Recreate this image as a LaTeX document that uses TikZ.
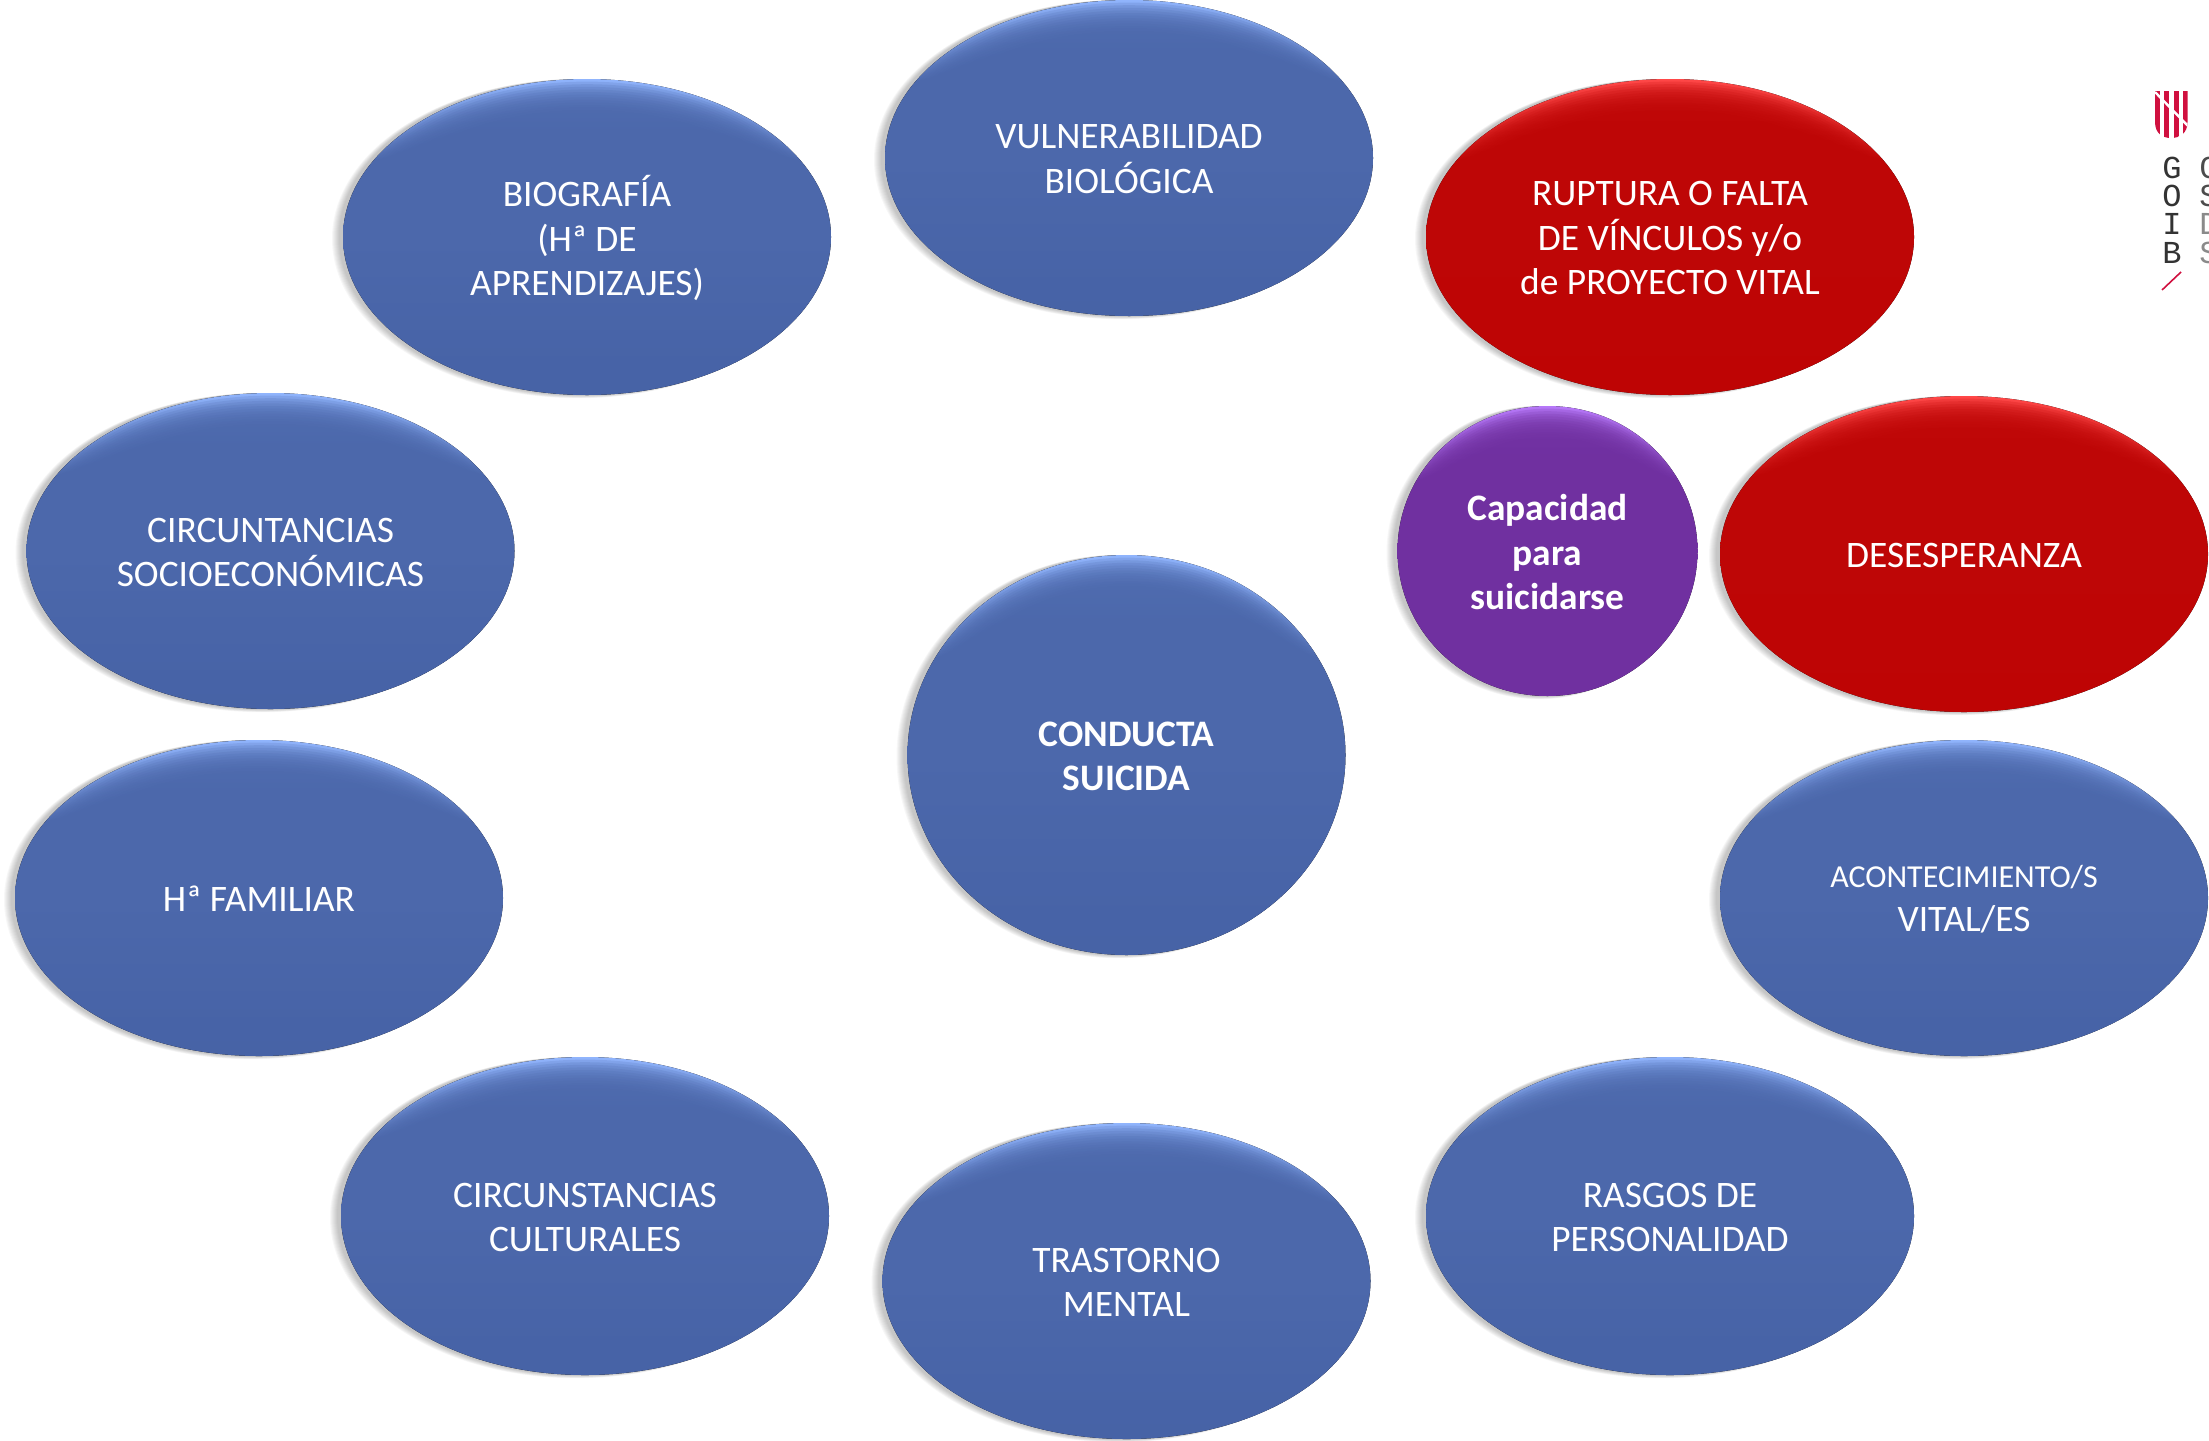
\documentclass[tikz,border=0pt]{standalone}
\usepackage{fontspec}
\setmainfont{Carlito}
\newfontfamily\logofont{Liberation Mono}
\definecolor{bluebase}{HTML}{4C68AB}
\definecolor{bluelight}{HTML}{90B4FC}
\definecolor{bluelow}{HTML}{4662A6}
\definecolor{redbase}{HTML}{BE0606}
\definecolor{redlight}{HTML}{FF4848}
\definecolor{redlow}{HTML}{C00404}
\definecolor{purplebase}{HTML}{7030A0}
\definecolor{purplelight}{HTML}{B678F8}
\definecolor{purplelow}{HTML}{7433A4}
\definecolor{logored}{HTML}{D0103F}
\definecolor{logogray}{HTML}{8A8A8A}
\pgfdeclareverticalshading{blobblue}{100bp}{color(0bp)=(bluelow); color(25bp)=(bluelow); color(50bp)=(bluebase); color(62bp)=(bluebase); color(75bp)=(bluelight); color(100bp)=(bluelight)}
\pgfdeclareverticalshading{blobred}{100bp}{color(0bp)=(redlow); color(25bp)=(redlow); color(50bp)=(redbase); color(62bp)=(redbase); color(75bp)=(redlight); color(100bp)=(redlight)}
\pgfdeclareverticalshading{blobpurple}{100bp}{color(0bp)=(purplelow); color(25bp)=(purplelow); color(50bp)=(purplebase); color(62bp)=(purplebase); color(75bp)=(purplelight); color(100bp)=(purplelight)}
\usetikzlibrary{shapes.geometric}
\tikzset{
  blobtext/.style={text=white,align=center,yshift=-0.6pt,font=\fontsize{18.7}{22.2}\selectfont},
  logoletter/.style={font=\logofont\fontsize{16}{16}\selectfont,text=black!80,inner sep=0pt,anchor=center},
  logoletterb/.style={logoletter,text=black!70},
  logoletterc/.style={logoletter,text=logogray}
}
% #1 name, #2 x, #3 y, #4 rx, #5 ry, #6 colour stem, #7 text, #8 font extras
\newcommand{\blob}[8][]{%
  \foreach \k in {1,...,8}{%
    \fill[black,opacity=.03] ({#3-3-.7*\k},{#4+.2*\k}) ellipse [x radius={#5+.3*\k},y radius={#6+.2*\k}];
  }
  \fill[shading=blob#7] (#3,#4) ellipse [x radius=#5,y radius=#6];
  \foreach \k in {1,...,12}{%
    \fill[#7base,opacity=.18] ({#3},{#4+1.1*\k}) ellipse [x radius={#5-.9*\k},y radius={#6-1.5*\k}];
  }
  \node[blobtext,#1] (#2) at (#3,#4) {#8};
}
\begin{document}
\begin{tikzpicture}[x=0.5pt,y=-0.5pt]
\useasboundingbox (0,0) rectangle (2209,1440);
\clip (0,0) rectangle (2209,1440);
\blob{vuln}{1129}{158}{244}{158}{blue}{VULNERABILIDAD\\BIOLÓGICA}
\blob{bio}{587}{237}{244}{158}{blue}{BIOGRAFÍA\\(Hª DE\\APRENDIZAJES)}
\blob{rupt}{1670}{237}{244}{158}{red}{RUPTURA O FALTA\\DE VÍNCULOS y/o\\de PROYECTO VITAL}
\blob{soc}{270.5}{551}{244}{158}{blue}{CIRCUNTANCIAS\\SOCIOECONÓMICAS}
\blob[font=\fontsize{18.7}{22.2}\selectfont\bfseries]{capa}{1547.5}{551}{150}{145}{purple}{Capacidad\\para\\suicidarse}
\blob{dese}{1964}{554}{244}{158}{red}{DESESPERANZA}
\blob[font=\fontsize{18.7}{22.2}\selectfont\bfseries]{cond}{1126.5}{755}{219}{200}{blue}{CONDUCTA\\SUICIDA}
\blob{fam}{259}{898}{244}{158}{blue}{Hª FAMILIAR}
\blob{acon}{1964}{898}{244}{158}{blue}{{\fontsize{16}{22.2}\selectfont ACONTECIMIENTO/S}\\VITAL/ES}
\blob{cult}{585}{1216}{244}{159}{blue}{CIRCUNSTANCIAS\\CULTURALES}
\blob{rasg}{1670}{1216}{244}{159}{blue}{RASGOS DE\\PERSONALIDAD}
\blob{tras}{1126.5}{1281}{244}{158}{blue}{TRASTORNO\\MENTAL}
% logo
\begin{scope}
  \clip (2155,91) -- (2187.5,91) -- (2187.5,122) .. controls (2187.5,133) and (2180,138) .. (2171,138) .. controls (2162,138) and (2155,133) .. (2155,122) -- cycle;
  \fill[logored] (2155,91) rectangle (2160,138);
  \fill[logored] (2164,91) rectangle (2169,138);
  \fill[logored] (2174,91) rectangle (2179,138);
  \fill[logored] (2183,91) rectangle (2187.5,138);
  \draw[white,line width=1.2pt] (2155,92) -- (2188,126);
\end{scope}
\node[logoletter] (g1) at (2172,168) {G};
\node[logoletter] (g2) at (2172,196) {O};
\node[logoletter] (g3) at (2172,224) {I};
\node[logoletter] (g4) at (2172,253) {B};
\node[logoletterb] (h1) at (2209,168) {C};
\node[logoletterb] (h2) at (2209,196) {S};
\node[logoletterc] (h3) at (2209,224) {D};
\node[logoletterc] (h4) at (2209,253) {S};
\coordinate (sa) at (2162,290);
\coordinate (sb) at (2181,272);
\draw[logored,line width=0.8pt] (sa) -- (sb);
\end{tikzpicture}
\end{document}
